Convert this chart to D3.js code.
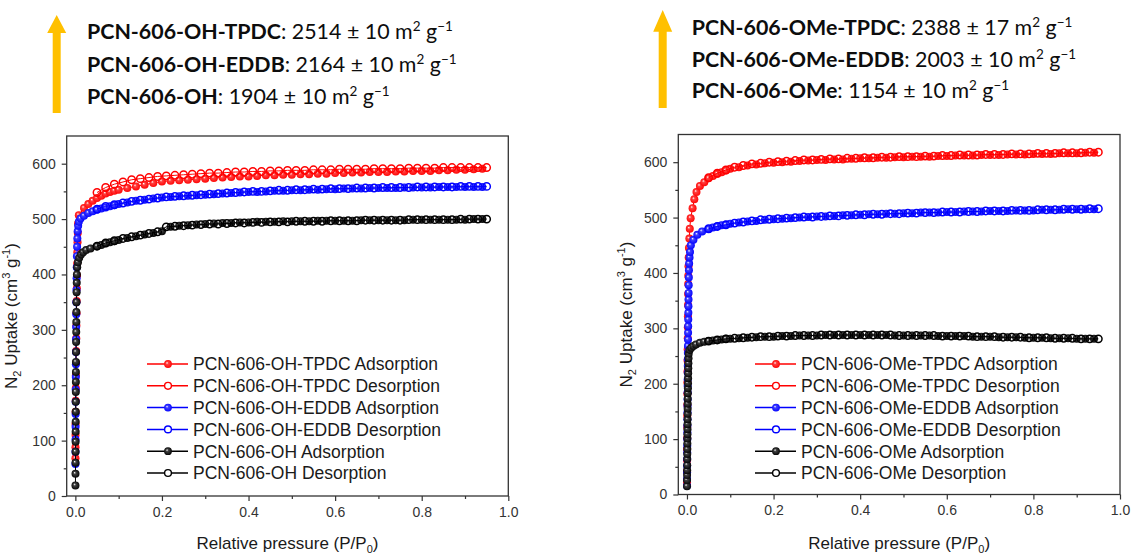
<!DOCTYPE html>
<html>
<head>
<meta charset="utf-8">
<script src="https://cdn.jsdelivr.net/npm/d3@7"></script>
<style>
  html, body { margin: 0; padding: 0; background: #fff; }
  svg { display: block; }
</style>
</head>
<body>
<svg id="chart" width="1133" height="556"></svg>
<script>
// ---------- axis ticks ----------
const xMajorTicks = [0, 0.2, 0.4, 0.6, 0.8, 1.0];
const xMinorTicks = [0.1, 0.3, 0.5, 0.7, 0.9];
const yMajorTicks = [0, 100, 200, 300, 400, 500, 600];
const yMinorTicks = [50, 150, 250, 350, 450, 550];

// ---------- header (BET surface areas) ----------
const ohNames = ["PCN-606-OH-TPDC", "PCN-606-OH-EDDB", "PCN-606-OH"];
const ohAreas = ["2514 ± 10", "2164 ± 10", "1904 ± 10"];
const omeNames = ["PCN-606-OMe-TPDC", "PCN-606-OMe-EDDB", "PCN-606-OMe"];
const omeAreas = ["2388 ± 17", "2003 ± 10", "1154 ± 10"];

// ---------- shared relative pressures ----------
// adsorption branch above P/P0 = 0.1
const adsHighP = [0.10,0.12,0.14,0.16,0.18,0.20,0.22,0.24,0.26,0.28,0.30,0.32,0.34,0.36,0.38,0.40,0.42,0.44,0.46,0.48,0.50,0.52,0.54,0.56,0.58,0.60,0.62,0.64,0.66,0.68,0.70,0.72,0.74,0.76,0.78,0.80,0.82,0.84,0.86,0.88,0.90,0.92,0.94];
// desorption branch, from high to low pressure
const desP = [0.95,0.93,0.91,0.89,0.87,0.85,0.83,0.81,0.79,0.77,0.75,0.73,0.71,0.69,0.67,0.65,0.63,0.61,0.59,0.57,0.55,0.53,0.51,0.49,0.47,0.45,0.43,0.41,0.39,0.37,0.35,0.33,0.31,0.29,0.27,0.25,0.23,0.21,0.19,0.17,0.15,0.13,0.11,0.09,0.07,0.05];

// ---------- PCN-606-OH family (cm3 g-1) ----------
const ohTpdcAdsLow = [[0.0002,68],[0.0003,88],[0.0004,110],[0.0005,130],[0.0006,152],[0.0008,172],[0.001,195],[0.0012,218],[0.0015,240],[0.0018,262],[0.0021,285],[0.0024,308],[0.0027,330],[0.003,352],[0.0034,375],[0.0038,398],[0.0042,420],[0.0046,440],[0.005,458],[0.0056,475],[0.0062,492],[0.008,507],[0.02,520],[0.03,527],[0.04,533],[0.05,538],[0.06,542],[0.07,546],[0.08,549],[0.09,551]];
const ohTpdcAdsHigh = [553,556,559,562,565,568,569,570,571,572,573,574,575,576,577,577,578,579,579,580,580,581,581,582,582,583,583,584,584,585,585,585,586,586,587,587,587,588,588,589,589,590,591];
const ohTpdcDes = [593,593,593,593,593,593,592,592,592,592,591,591,591,591,590,590,590,590,589,589,589,588,588,588,587,587,586,586,585,585,584,583,583,582,581,580,579,578,577,575,573,571,567,563,557,548];

const ohEddbAdsLow = [[0.0002,58],[0.0003,80],[0.0004,102],[0.0005,125],[0.0006,148],[0.0007,170],[0.0008,192],[0.001,215],[0.0012,238],[0.0014,260],[0.0016,283],[0.0018,305],[0.002,328],[0.0023,350],[0.0026,372],[0.0029,393],[0.0032,413],[0.0036,433],[0.004,450],[0.0046,465],[0.0054,478],[0.0065,488],[0.008,495],[0.012,501],[0.02,506],[0.03,511],[0.04,514],[0.05,517],[0.06,519],[0.07,521],[0.08,523],[0.09,525]];
const ohEddbAdsHigh = [527,530,533,535,537,539,540,541,542,543,544,545,546,547,548,549,549,550,551,551,552,552,553,553,554,554,555,555,555,556,556,556,556,557,557,557,557,558,558,558,558,558,558];
const ohEddbDes = [559,559,559,559,558,558,558,558,558,557,557,557,557,556,556,556,555,555,555,554,554,553,553,552,552,551,550,550,549,548,547,546,545,544,543,542,541,540,538,536,534,532,529,526,523,518];

const ohAdsLow = [[0.0002,19],[0.0003,40],[0.0004,60],[0.0005,80],[0.0006,98],[0.0007,116],[0.0008,134],[0.0009,152],[0.001,170],[0.0011,188],[0.0012,206],[0.0013,224],[0.0014,242],[0.0016,260],[0.0018,278],[0.002,296],[0.0022,314],[0.0024,332],[0.0026,350],[0.0029,368],[0.0032,385],[0.0036,400],[0.0042,413],[0.006,422],[0.009,430],[0.013,436],[0.018,440],[0.025,444],[0.035,447],[0.05,451],[0.06,453],[0.07,456],[0.08,458],[0.09,460]];
const ohAdsHigh = [462,466,469,472,475,478,486,488,489,490,491,492,493,493,494,494,495,495,495,496,496,496,496,497,497,497,497,497,498,498,498,498,498,498,499,499,499,499,499,499,499,500,500];
const ohDes = [500,500,500,500,499,499,499,499,499,499,498,498,498,498,498,497,497,497,497,496,496,496,496,495,495,495,494,494,493,493,492,491,491,490,489,488,487,486,477,474,471,468,465,461,457,451];

// ---------- PCN-606-OMe family (cm3 g-1) ----------
const omeTpdcAdsLow = [[0.0001,22],[0.0002,42],[0.0003,62],[0.0004,82],[0.0005,102],[0.0006,122],[0.0007,142],[0.0008,162],[0.0009,182],[0.001,202],[0.0012,222],[0.0014,242],[0.0016,262],[0.0018,282],[0.002,302],[0.0022,322],[0.0024,342],[0.0026,362],[0.0028,380],[0.003,395],[0.0035,412],[0.004,428],[0.0045,445],[0.0055,462],[0.0065,480],[0.0085,499],[0.013,517],[0.017,533],[0.022,546],[0.03,557],[0.04,564],[0.05,571],[0.06,575],[0.07,579],[0.08,582],[0.09,585]];
const omeTpdcAdsHigh = [588,591,594,596,598,599,600,601,602,603,604,604,605,605,606,607,607,608,608,609,609,610,610,610,611,611,612,612,612,613,613,613,614,614,614,615,615,615,616,616,616,617,617];
const omeTpdcDes = [618,618,617,617,617,616,616,616,615,615,615,614,614,614,613,613,613,612,612,611,611,610,610,610,609,609,608,608,607,607,606,606,605,604,604,603,602,601,600,598,597,594,591,586,580,572];

const omeEddbAdsLow = [[0.0001,16],[0.0002,28],[0.0003,40],[0.0004,52],[0.0005,64],[0.0006,76],[0.0007,88],[0.0008,100],[0.0009,112],[0.001,124],[0.0011,136],[0.0012,148],[0.0013,160],[0.0014,172],[0.0015,184],[0.0016,196],[0.0017,208],[0.0018,220],[0.0019,232],[0.002,244],[0.0021,256],[0.0022,268],[0.0024,280],[0.0026,292],[0.0028,304],[0.003,316],[0.0032,328],[0.0034,340],[0.0036,352],[0.0038,364],[0.004,378],[0.0043,392],[0.0046,405],[0.005,417],[0.006,428],[0.007,438],[0.009,450],[0.015,460],[0.024,469],[0.035,475],[0.05,479],[0.06,482],[0.07,484],[0.08,486],[0.09,487]];
const omeEddbAdsHigh = [489,491,493,494,496,497,498,499,500,501,502,502,503,504,504,505,506,506,507,507,508,508,509,509,509,510,510,511,511,511,512,512,512,513,513,513,514,514,514,515,515,515,515];
const omeEddbDes = [516,516,515,515,515,514,514,514,513,513,513,512,512,512,511,511,510,510,510,509,509,508,508,507,507,506,506,505,505,504,503,503,502,501,501,500,499,498,497,496,494,492,490,487,484,480];

const omeAdsLow = [[0.0001,15],[0.0002,26],[0.0003,35],[0.0004,44],[0.0005,53],[0.0006,64],[0.0007,73],[0.0008,82],[0.0009,92],[0.001,101],[0.0011,109],[0.0012,118],[0.0013,127],[0.0014,136],[0.0015,146],[0.0016,155],[0.0017,164],[0.0018,173],[0.002,183],[0.0022,192],[0.0024,201],[0.0026,210],[0.0028,219],[0.003,228],[0.0033,237],[0.0036,246],[0.004,254],[0.006,261],[0.01,265],[0.015,268],[0.021,271],[0.03,274],[0.04,276],[0.05,277],[0.06,278],[0.07,279],[0.08,280],[0.09,281]];
const omeAdsHigh = [281,282,283,284,285,285,286,286,287,287,287,288,288,288,288,288,288,288,288,287,287,287,287,287,286,286,286,286,285,285,285,284,284,284,283,283,283,282,282,282,281,281,281];
const omeDes = [281,281,281,282,282,282,283,283,283,284,284,284,285,285,285,286,286,286,286,287,287,287,287,287,288,288,288,288,288,288,288,288,288,287,287,287,286,286,285,285,284,283,282,281,279,277];

// ---------- styling ----------
const RED = "#ff0000", BLUE = "#0000ff", BLACK = "#000000";
const ARROW = "#ffc000";
const FRAME = "#333333";
const AXIS_FONT = "'Liberation Sans', Arial, Helvetica, sans-serif";
const HEAD_FONT = "Lato, 'Open Sans', sans-serif";

const svg = d3.select("#chart");
const defs = svg.append("defs");

// shaded "ball" fill for the adsorption markers
function ballFill(id, color) {
  const g = defs.append("radialGradient").attr("id", id)
    .attr("cx", "50%").attr("cy", "50%").attr("r", "55%")
    .attr("fx", "36%").attr("fy", "34%");
  g.append("stop").attr("offset", "0%").attr("stop-color", "#ffffff");
  g.append("stop").attr("offset", "30%").attr("stop-color", d3.interpolateRgb(color, "#ffffff")(0.25));
  g.append("stop").attr("offset", "100%").attr("stop-color", color);
  return `url(#${id})`;
}
const fills = {
  [RED]: ballFill("ballRed", RED),
  [BLUE]: ballFill("ballBlue", BLUE),
  [BLACK]: ballFill("ballBlack", "#000000")
};

function adsSeries(low, high) { return low.concat(d3.zip(adsHighP, high)); }
function desSeries(vals) { return d3.zip(desP, vals); }

const panels = [
  {
    left: 66.7, right: 508.3, top: 136, bottom: 496,
    legendX: 147, legendY: 364, yTitleX: 17,
    series: [
      { label: "PCN-606-OH-TPDC Adsorption", color: RED, filled: true, data: adsSeries(ohTpdcAdsLow, ohTpdcAdsHigh) },
      { label: "PCN-606-OH-TPDC Desorption", color: RED, filled: false, data: desSeries(ohTpdcDes) },
      { label: "PCN-606-OH-EDDB Adsorption", color: BLUE, filled: true, data: adsSeries(ohEddbAdsLow, ohEddbAdsHigh) },
      { label: "PCN-606-OH-EDDB Desorption", color: BLUE, filled: false, data: desSeries(ohEddbDes) },
      { label: "PCN-606-OH Adsorption", color: BLACK, filled: true, data: adsSeries(ohAdsLow, ohAdsHigh) },
      { label: "PCN-606-OH Desorption", color: BLACK, filled: false, data: desSeries(ohDes) }
    ]
  },
  {
    left: 678.3, right: 1120, top: 134.5, bottom: 494.5,
    legendX: 755, legendY: 364, yTitleX: 632,
    series: [
      { label: "PCN-606-OMe-TPDC Adsorption", color: RED, filled: true, data: adsSeries(omeTpdcAdsLow, omeTpdcAdsHigh) },
      { label: "PCN-606-OMe-TPDC Desorption", color: RED, filled: false, data: desSeries(omeTpdcDes) },
      { label: "PCN-606-OMe-EDDB Adsorption", color: BLUE, filled: true, data: adsSeries(omeEddbAdsLow, omeEddbAdsHigh) },
      { label: "PCN-606-OMe-EDDB Desorption", color: BLUE, filled: false, data: desSeries(omeEddbDes) },
      { label: "PCN-606-OMe Adsorption", color: BLACK, filled: true, data: adsSeries(omeAdsLow, omeAdsHigh) },
      { label: "PCN-606-OMe Desorption", color: BLACK, filled: false, data: desSeries(omeDes) }
    ]
  }
];

function styleAxis(g) {
  g.select(".domain").remove();
  g.selectAll(".tick line").attr("stroke", FRAME).attr("stroke-width", 1.2);
  g.selectAll(".tick text").attr("fill", "#333").attr("font-family", AXIS_FONT).attr("font-size", 14);
}

function drawPanel(p) {
  const x = d3.scaleLinear().domain([-0.02, 1.0]).range([p.left, p.right]);
  const y = d3.scaleLinear().domain([0, 650]).range([p.bottom, p.top]);
  const g = svg.append("g");

  // axes (ticks pointing outwards)
  g.append("g").attr("transform", `translate(0,${p.bottom})`)
    .call(d3.axisBottom(x).tickValues(xMajorTicks).tickFormat(d3.format(".1f")).tickSize(5).tickPadding(6))
    .call(styleAxis);
  g.append("g").attr("transform", `translate(0,${p.bottom})`)
    .call(d3.axisBottom(x).tickValues(xMinorTicks).tickFormat("").tickSize(3))
    .call(styleAxis);
  g.append("g").attr("transform", `translate(${p.left},0)`)
    .call(d3.axisLeft(y).tickValues(yMajorTicks).tickFormat(d3.format("d")).tickSize(5).tickPadding(6))
    .call(styleAxis);
  g.append("g").attr("transform", `translate(${p.left},0)`)
    .call(d3.axisLeft(y).tickValues(yMinorTicks).tickFormat("").tickSize(3))
    .call(styleAxis);

  // frame
  g.append("rect")
    .attr("x", p.left).attr("y", p.top)
    .attr("width", p.right - p.left).attr("height", p.bottom - p.top)
    .attr("fill", "none").attr("stroke", FRAME).attr("stroke-width", 1.3);

  // isotherms
  const line = d3.line().x(d => x(d[0])).y(d => y(d[1]));
  p.series.forEach(s => {
    const sg = g.append("g");
    sg.append("path").datum(s.data).attr("d", line)
      .attr("fill", "none").attr("stroke", s.color).attr("stroke-width", 1);
    sg.selectAll("circle").data(s.data).join("circle")
      .attr("cx", d => x(d[0])).attr("cy", d => y(d[1]))
      .attr("r", s.filled ? 4 : 3.7)
      .attr("fill", s.filled ? fills[s.color] : "none")
      .attr("stroke", s.filled ? "none" : s.color)
      .attr("stroke-width", 1.5);
  });

  // legend
  const rowH = 21.8;
  p.series.forEach((s, i) => {
    const ly = p.legendY + i * rowH;
    const lg = g.append("g");
    lg.append("line").attr("x1", p.legendX).attr("x2", p.legendX + 41)
      .attr("y1", ly).attr("y2", ly).attr("stroke", s.color).attr("stroke-width", 1.5);
    lg.append("circle").attr("cx", p.legendX + 21).attr("cy", ly)
      .attr("r", s.filled ? 3.9 : 3.4)
      .attr("fill", s.filled ? fills[s.color] : "#fff")
      .attr("stroke", s.filled ? "none" : s.color).attr("stroke-width", 1.4);
    lg.append("text").attr("x", p.legendX + 46).attr("y", ly).attr("dy", "0.36em")
      .attr("font-family", AXIS_FONT).attr("font-size", 17.5).attr("fill", "#1a1a1a")
      .text(s.label);
  });

  // x axis title
  const xt = g.append("text")
    .attr("x", (p.left + p.right) / 2).attr("y", 549)
    .attr("text-anchor", "middle")
    .attr("font-family", AXIS_FONT).attr("font-size", 17).attr("fill", "#1a1a1a");
  xt.append("tspan").text("Relative pressure (P/P");
  xt.append("tspan").attr("font-size", 11).attr("dy", 4).text("0");
  xt.append("tspan").attr("dy", -4).text(")");

  // y axis title
  const cy = (p.top + p.bottom) / 2;
  const yt = g.append("text")
    .attr("transform", `translate(${p.yTitleX},${cy}) rotate(-90)`)
    .attr("text-anchor", "middle")
    .attr("font-family", AXIS_FONT).attr("font-size", 17).attr("fill", "#1a1a1a");
  yt.append("tspan").text("N");
  yt.append("tspan").attr("font-size", 11).attr("dy", 4).text("2");
  yt.append("tspan").attr("dy", -4).text(" Uptake (cm");
  yt.append("tspan").attr("font-size", 11).attr("dy", -7).text("3");
  yt.append("tspan").attr("dy", 7).text(" g");
  yt.append("tspan").attr("font-size", 11).attr("dy", -7).text("-1");
  yt.append("tspan").attr("dy", 7).text(")");
}

panels.forEach(drawPanel);

// ---------- header blocks with arrows ----------
function drawHeader(names, areas, textX, baselines, arrowX, tipY, headY, tailY) {
  const g = svg.append("g");
  const arrowPath = d3.path();
  arrowPath.moveTo(arrowX, tipY);
  arrowPath.lineTo(arrowX + 9.5, headY);
  arrowPath.lineTo(arrowX + 4, headY);
  arrowPath.lineTo(arrowX + 4, tailY);
  arrowPath.lineTo(arrowX - 4, tailY);
  arrowPath.lineTo(arrowX - 4, headY);
  arrowPath.lineTo(arrowX - 9.5, headY);
  arrowPath.closePath();
  g.append("path").attr("d", arrowPath.toString()).attr("fill", ARROW);

  names.forEach((n, i) => {
    const t = g.append("text").attr("x", textX).attr("y", baselines[i])
      .attr("font-family", HEAD_FONT).attr("font-size", 21.4).attr("fill", "#0d0d0d");
    t.append("tspan").attr("font-weight", 700).text(n);
    t.append("tspan").text(": " + areas[i] + " m");
    t.append("tspan").attr("font-size", 13.5).attr("dy", -8).text("2");
    t.append("tspan").attr("dy", 8).text(" g");
    t.append("tspan").attr("font-size", 13.5).attr("dy", -8).text("\u22121");
  });
}

drawHeader(ohNames, ohAreas, 87, [39.3, 71.7, 104], 56.7, 15, 33, 113);
drawHeader(omeNames, omeAreas, 691.7, [35, 66.7, 98.3], 662.7, 10, 31.7, 108);
</script>
</body>
</html>
